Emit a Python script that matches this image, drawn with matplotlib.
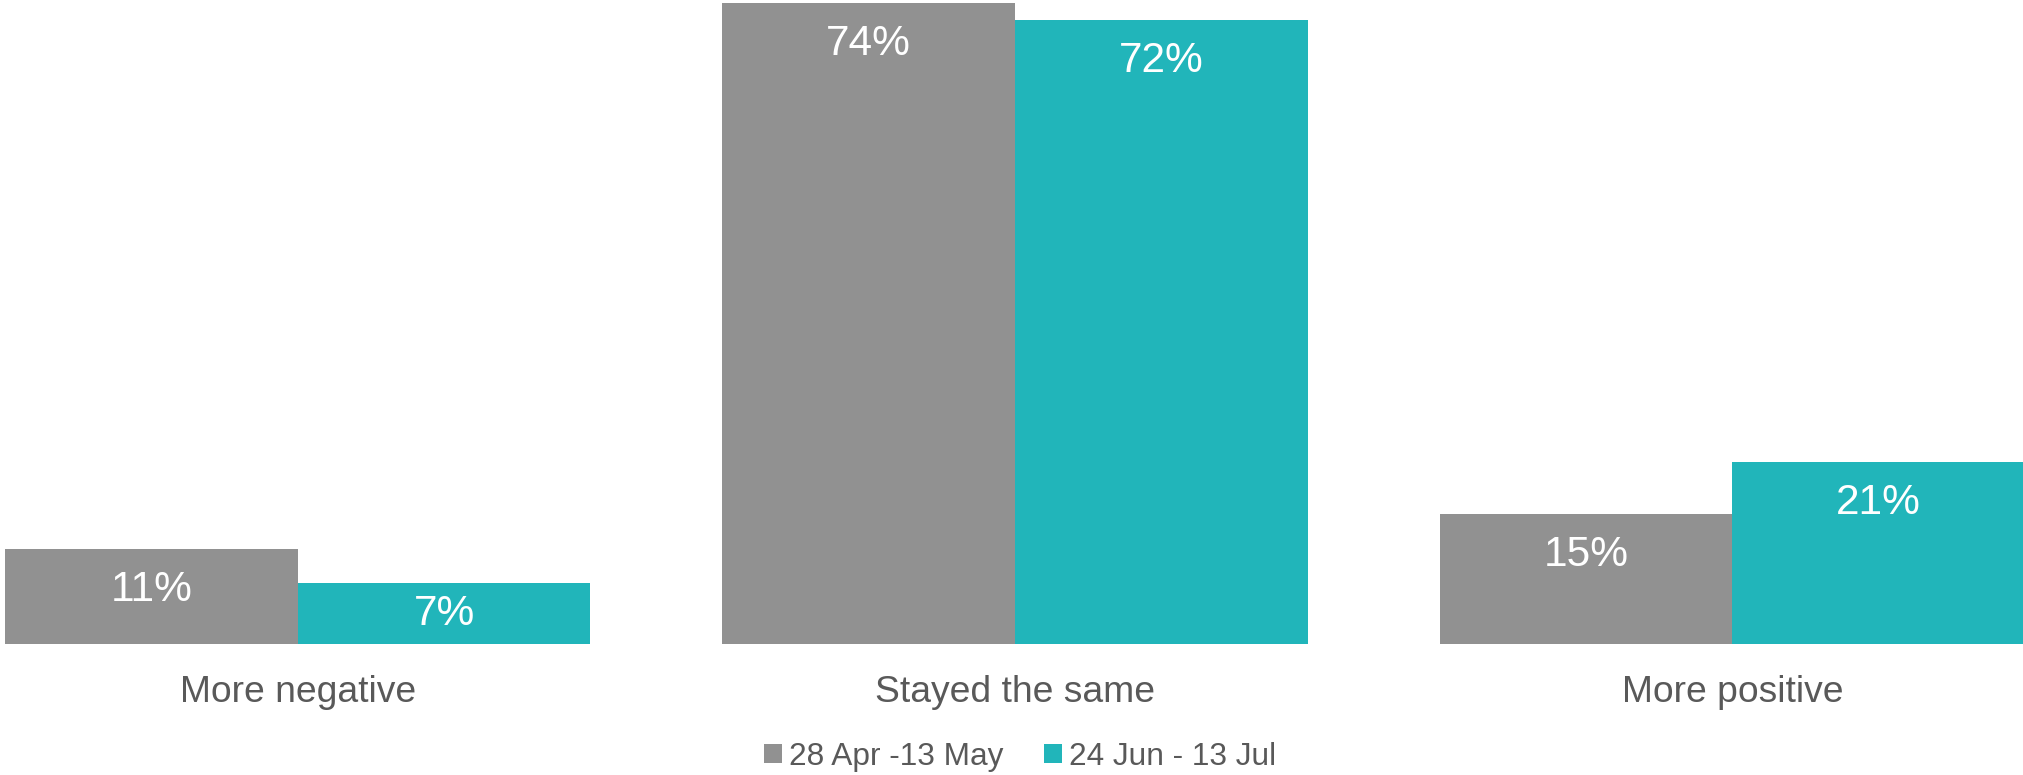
import numpy as np
import matplotlib.pyplot as plt
from matplotlib.patches import Patch

plt.rcParams['font.family'] = ['Liberation Sans', 'DejaVu Sans']

# Data
categories = ["More negative", "Stayed the same", "More positive"]
series_names = ["28 Apr -13 May", "24 Jun - 13 Jul"]
wave1 = [11, 74, 15]
wave2 = [7, 72, 21]

grey = "#919191"
teal = "#21B5BA"
text_grey = "#595959"

fig = plt.figure(figsize=(20.23, 7.75), dpi=100)
ax = fig.add_axes([0, 131 / 775, 1, 644 / 775])

x = np.arange(len(categories))
w = 0.408
ax.bar(x - w / 2, wave1, width=w, color=grey)
ax.bar(x + w / 2, wave2, width=w, color=teal)

ax.set_xlim(-0.415, 2.405)
ax.set_ylim(0, 74.3)
ax.axis("off")

# value labels inside the bars, near the top (centred if the bar is short)
px_per_unit = 644 / 74.3
off = 41 / px_per_unit
for xs, vals in [(x - w / 2, wave1), (x + w / 2, wave2)]:
    for xi, v in zip(xs, vals):
        y = max(v - off, v / 2)
        ax.text(xi, y, f"{v}%", ha="center", va="center", color="white",
                fontsize=30.5)

# category labels
for xi, cat in zip(x, categories):
    ax.text(xi, -49 / px_per_unit, cat, ha="center", va="center",
            color=text_grey, fontsize=26.8, clip_on=False)

handles = [Patch(facecolor=grey), Patch(facecolor=teal)]
fig.legend(handles, series_names, loc="center",
           bbox_to_anchor=(1020 / 2023, 1 - 757 / 775), ncol=2, frameon=False,
           fontsize=22.8, handlelength=0.55, handleheight=0.55,
           handletextpad=0.22, columnspacing=1.3, labelcolor=text_grey,
           borderpad=0)

fig.savefig("out.png", dpi=100)
